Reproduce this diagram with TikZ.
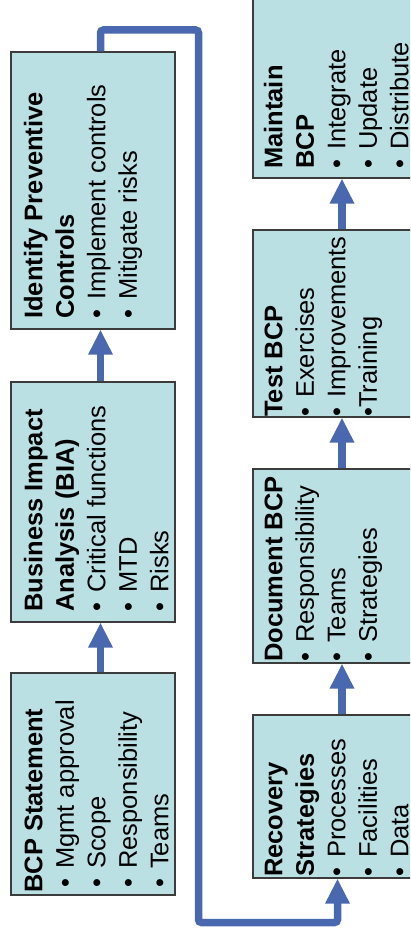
\documentclass[tikz,border=0pt]{standalone}
\usepackage{fontspec}
\setmainfont{Liberation Sans}
\usetikzlibrary{arrows.meta}
\definecolor{boxfill}{RGB}{186,224,228}
\definecolor{boxline}{RGB}{60,60,60}
\definecolor{flowblue}{RGB}{74,104,176}
\newcommand\bul{\makebox[19pt][l]{•}}
\newcommand\ibul{\hspace*{5pt}\bul}
\begin{document}
\begin{tikzpicture}[x=1pt,y=-1pt,
  stage/.style={draw=boxline, line width=1.2pt, fill=boxfill, inner sep=0pt},
  lbl/.style={rotate=90, anchor=north west, inner sep=0pt, align=left,
    font=\fontsize{25.5}{31.5}\selectfont},
  flow/.style={draw=flowblue, line width=7.5pt,
    -{Triangle[width=23pt,length=25pt]}}]
\useasboundingbox (0,0) rectangle (410,942);
\clip (0,0) rectangle (410,942);

% left column of stages
\node[stage, minimum width=164pt, minimum height=222pt] (bcp) at (93,784) {};
\node[stage, minimum width=164pt, minimum height=240pt] (bia) at (93,502) {};
\node[stage, minimum width=164pt, minimum height=277pt] (ipc) at (93,190.5) {};

% right column of stages
\node[stage, minimum width=167pt, minimum height=163pt] (rec) at (336.5,796.5) {};
\node[stage, minimum width=167pt, minimum height=194pt] (doc) at (336.5,566) {};
\node[stage, minimum width=167pt, minimum height=187pt] (tst) at (336.5,323.5) {};
\node[stage, minimum width=167pt, minimum height=188pt] (mnt) at (336.5,84) {};

% stage texts, read from bottom to top
\node[lbl] (bcp-t) at (20,893) {\strut\textbf{BCP Statement}\\ \ibul Mgmt approval\\ \ibul Scope\\ \ibul Responsibility\\ \ibul Teams};
\node[lbl] (bia-t) at (20,612) {\strut\textbf{Business Impact}\\ \textbf{Analysis (BIA)}\\ \bul Critical functions\\ \bul MTD\\ \bul Risks};
\node[lbl] (ipc-t) at (20,319) {\strut\textbf{Identify Preventive}\\ \textbf{Controls}\\ \bul Implement controls\\ \bul Mitigate risks};
\node[lbl] (rec-t) at (260,877) {\strut\textbf{Recovery}\\ \textbf{Strategies}\\ \bul Processes\\ \bul Facilities\\ \bul Data};
\node[lbl] (doc-t) at (260,662) {\strut\textbf{Document BCP}\\ \bul Responsibility\\ \bul Teams\\ \bul Strategies};
\node[lbl] (tst-t) at (260,417) {\strut\textbf{Test BCP}\\ \bul Exercises\\ \bul Improvements\\ •Training};
\node[lbl] (mnt-t) at (260,169) {\strut\textbf{Maintain}\\ \textbf{BCP}\\ \bul Integrate\\ \bul Update\\ \bul Distribute};

% flow between stages
\draw[flow] ([xshift=7.5pt]bcp.north) -- ([xshift=7.5pt]bia.south);
\draw[flow] ([xshift=7.5pt]bia.north) -- ([xshift=7.5pt]ipc.south);
\draw[flow] ([xshift=5.5pt]rec.north) -- ([xshift=5.5pt]doc.south);
\draw[flow] ([xshift=5.5pt]doc.north) -- ([xshift=5.5pt]tst.south);
\draw[flow] ([xshift=5.5pt]tst.north) -- ([xshift=5.5pt]mnt.south);

% loop from the left column over to the right column
\coordinate (tr) at (198.5,30);
\coordinate (br) at (198.5,922.5);
\draw[flow, rounded corners=3pt] ([xshift=7.5pt]ipc.north) |- (tr) -- (br) -| ([xshift=1pt]rec.south);
\end{tikzpicture}
\end{document}
